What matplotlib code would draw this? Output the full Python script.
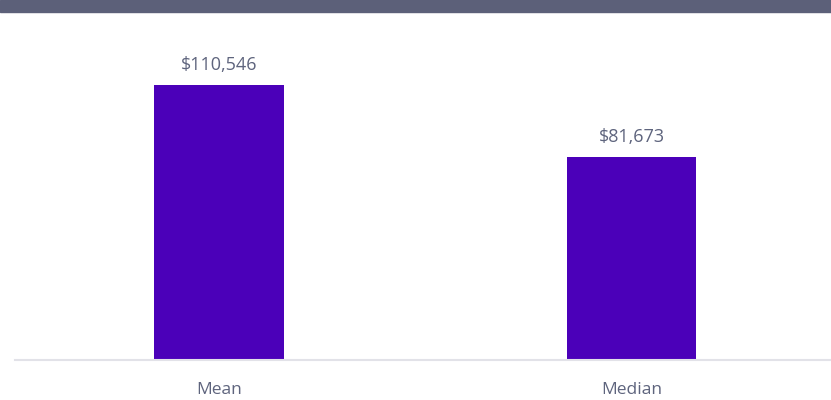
import matplotlib.pyplot as plt
from matplotlib.patches import Rectangle

# Mean vs median values
categories = ["Mean", "Median"]
values = [110546, 81673]
value_labels = ["$110,546", "$81,673"]

text_color = "#5E647D"
bar_color = "#4B00B9"

plt.rcParams['font.family'] = ['Open Sans', 'DejaVu Sans']

fig = plt.figure(figsize=(8.31, 4.0), dpi=100)

# dark header band across the top
fig.patches.append(Rectangle((0, 388 / 400), 1, 12 / 400, transform=fig.transFigure,
                             color="#5C6079", zorder=0))

ax = fig.add_axes([15 / 831, 40 / 400, 816 / 831, 348 / 400])
x = list(range(len(categories)))
ax.bar(x, values, width=0.315, color=bar_color, zorder=2)

for xi, v, lab in zip(x, values, value_labels):
    ax.text(xi, v + 6200, lab, ha="center", va="baseline", fontsize=13, color=text_color)

ax.set_xlim(-0.4945, 1.4836)
ax.set_ylim(0, 140000)

ax.set_xticks(x)
ax.set_xticklabels(categories, fontsize=12.5, color=text_color)
ax.tick_params(axis="x", length=0, pad=15.5)
ax.set_yticks([])

for side in ["top", "right", "left"]:
    ax.spines[side].set_visible(False)
ax.spines["bottom"].set_color("#E2E2E8")
ax.spines["bottom"].set_linewidth(1.5)

fig.savefig("out.png", dpi=100)
